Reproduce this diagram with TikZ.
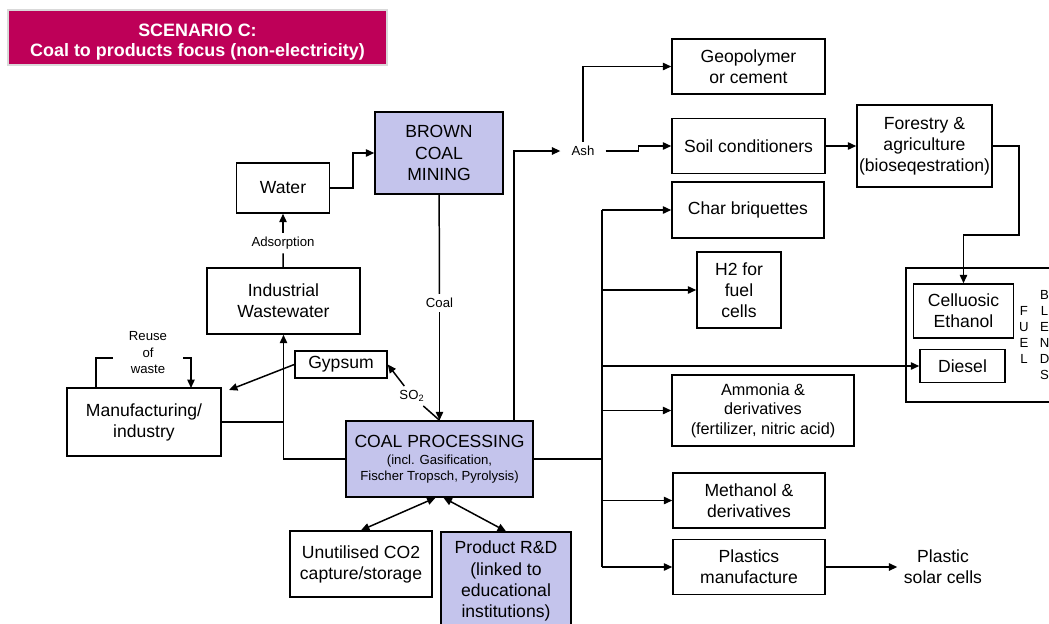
\documentclass[tikz,border=0pt]{standalone}
\usepackage{fontspec}
\setmainfont{Liberation Sans}
\usetikzlibrary{arrows.meta, positioning}
\definecolor{scenario}{RGB}{190,0,88}
\definecolor{lav}{RGB}{196,196,236}
\newcommand{\smallline}{\fontsize{7.5}{9}\selectfont}

\begin{document}
\begin{tikzpicture}[x=0.02cm, y=-0.02cm, line width=0.85pt, >={Triangle[length=4.8pt,width=4.2pt]},
    box/.style={draw, fill=white, align=center, inner sep=1pt, font=\fontsize{10}{12}\selectfont},
    bluebox/.style={box, fill=lav},
    note/.style={align=center, inner sep=2pt, font=\fontsize{7.5}{9.4}\selectfont},
    headline/.style={draw=gray!30, fill=scenario, text=white, align=center, inner ysep=0pt, text height=23.5pt, font=\bfseries\fontsize{10.2}{11.5}\selectfont, minimum width=7.58cm, minimum height=1.1cm}]
    \useasboundingbox (0,0) rectangle (1049,623);
    \clip (0,0) rectangle (1049,623);

    % heading
    \node[headline] (title) at (197.5,37.5) {SCENARIO C:\\Coal to products focus (non-electricity)};

    % left half
    \node[bluebox, minimum width=2.56cm, minimum height=1.64cm] (mining) at (439,153) {BROWN\\COAL\\MINING};
    \node[box, minimum width=1.86cm, minimum height=1cm] (water) at (283,188) {Water};
    \node[box, minimum width=3.06cm, minimum height=1.32cm] (waste) at (283.5,301) {Industrial\\Wastewater};
    \node[box, minimum width=1.84cm, minimum height=0.54cm] (gypsum) at (341,364.5) {Gypsum};
    \node[box, minimum width=3.08cm, minimum height=1.36cm] (manuf) at (144,422) {Manufacturing/\\industry};
    \node[bluebox, minimum width=3.74cm, minimum height=1.52cm] (proc) at (439.5,459) {COAL PROCESSING\\[-2pt]{\smallline (incl. Gasification,}\\[-3pt]{\smallline Fischer Tropsch, Pyrolysis)}};
    \node[box, minimum width=2.84cm, minimum height=1.32cm] (co2) at (361,564) {Unutilised CO2\\capture/storage};
    \node[bluebox, minimum width=2.6cm, minimum height=1.96cm] (rnd) at (506,581) {Product R\&D\\(linked to\\educational\\institutions)};

    \node[note] (ads) at (283,243) {Adsorption};
    \node[note] (coal) at (439.5,303) {Coal};
    \node[note] (so2) at (412,396) {SO\textsubscript{2}};
    \node[note, inner xsep=6pt] (ash) at (583,151) {Ash};
    \node[note, inner xsep=8pt] (reuse) at (148,353) {Reuse\\of\\waste};

    % products
    \node[box, minimum width=3.06cm, minimum height=1.1cm] (geo) at (748.5,66.5) {Geopolymer\\or cement};
    \node[box, minimum width=3.06cm, minimum height=1.1cm] (soil) at (748.5,146) {Soil conditioners};
    \node[box, minimum width=2.7cm, minimum height=1.64cm] (forest) at (924.5,146) {Forestry \&\\agriculture\\(bioseqestration)};
    \node[box, minimum width=3.04cm, minimum height=1.12cm] (char) at (748,210) {Char briquettes};
    \node[box, minimum width=1.68cm, minimum height=1.52cm] (h2) at (739,290) {H2 for\\fuel\\cells};
    \node[draw, minimum width=3.28cm, minimum height=2.68cm] (fuel) at (988,335) {};
    \node[box, minimum width=2cm, minimum height=1.08cm] (ethanol) at (963.5,311) {Celluosic\\Ethanol};
    \node[box, minimum width=1.7cm, minimum height=0.66cm] (diesel) at (962.5,366) {Diesel};
    \node[align=center, inner sep=0pt, font=\fontsize{7.5}{9.2}\selectfont] (fword) at (1024,335) {F\\U\\E\\L};
    \node[align=center, inner sep=0pt, font=\fontsize{7.5}{9.2}\selectfont] (blends) at (1044.5,335) {B\\L\\E\\N\\D\\S};
    \node[box, minimum width=3.64cm, minimum height=1.42cm, font=\fontsize{9.25}{11}\selectfont] (ammonia) at (763,410.5) {Ammonia \&\\derivatives\\(fertilizer, nitric acid)};
    \node[box, minimum width=3.04cm, minimum height=1.1cm] (methanol) at (749,500.5) {Methanol \&\\derivatives};
    \node[box, minimum width=3.04cm, minimum height=1.1cm] (plastics) at (749,567) {Plastics\\manufacture};
    \node[align=center, font=\fontsize{10}{12}\selectfont] (solar) at (943,567) {Plastic\\solar cells};

    \coordinate (rA) at (96,388);
    \coordinate (rB) at (113,358);
    \coordinate (rC) at (183,358);
    \coordinate (rD) at (191,388);
    \coordinate (gyend) at (229,390);
    \coordinate (ashfoot) at (514,421);
    \coordinate (fbend) at (1019,235);
    \coordinate (bus) at (602,459);

    \draw[->] (water.east) -- ++(23,0) |- (mining.west);
    \draw (waste) -- (ads);
    \draw[->] (ads) -- (water);
    \draw (mining) -- (coal);
    \draw[->] (coal) -- (proc);
    \draw (proc.north) -- (so2);
    \draw[->] (so2) -- (gypsum.east);
    \draw[->] (gypsum.west) -- (gyend);
    \draw (rA) |- (rB);
    \draw[->] (rC) -| (rD);
    \draw (manuf.east) -- (manuf.east -| waste.south);
    \draw[->] (proc.west) -| (waste.south);
    \draw[<->] ([xshift=-0.08cm]proc.south) -- (co2.north);
    \draw[<->] ([xshift=0.08cm]proc.south) -- (rnd.north);

    \draw[->] (ashfoot) |- (ash.west);
    \draw[->] (ash.north) |- (geo.west);
    \draw[->] (ash.east) -- ++(33,0) |- (soil.west);
    \draw[->] (soil) -- (forest);
    \draw[->] (forest.east) -| (fbend) -| (ethanol.north);

    \draw[line width=1.2pt] (proc.east) -- (bus);
    \draw[line width=1.2pt] (bus |- char) -- (bus |- plastics);
    \draw[->] (bus |- char) -- (char);
    \draw[->] (bus |- h2) -- (h2);
    \draw[->] (bus |- diesel) -- (diesel);
    \draw[->] (bus |- ammonia) -- (ammonia);
    \draw[->] (bus |- methanol) -- (methanol);
    \draw[->] (bus |- plastics) -- (plastics);
    \draw[->] (plastics) -- (solar);
\end{tikzpicture}
\end{document}
